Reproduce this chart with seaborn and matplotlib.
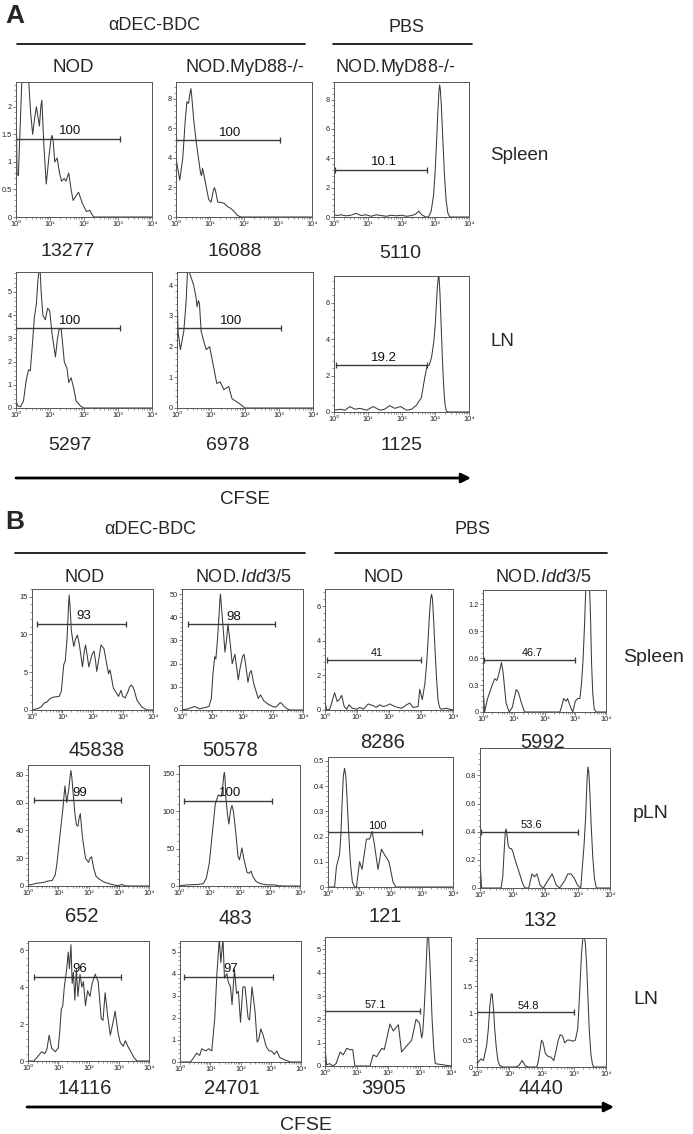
import numpy as np
import matplotlib.pyplot as plt
import seaborn as sns
from matplotlib.ticker import FixedLocator, LogLocator, NullFormatter, AutoMinorLocator

# ------------------------------------------------------------
# data: CFSE histograms (x = log10 CFSE, y = count)
# ------------------------------------------------------------

# panel A, aDEC-BDC NOD, spleen
A_NOD_SPL_X = [0.0, 0.03, 0.07, 0.12, 0.18, 0.28, 0.37, 0.43, 0.49, 0.55, 0.6, 0.65, 0.69, 0.73, 0.76,
               0.82, 0.89, 0.97, 1.03, 1.06, 1.09, 1.14, 1.21, 1.28, 1.34, 1.42, 1.47, 1.55, 1.62, 1.68,
               1.76, 1.84, 1.95, 2.07, 2.17, 2.28, 4.0]
A_NOD_SPL_Y = [2.3, 0.8, 0.75, 1.6, 2.6, 2.6, 2.5, 1.9, 1.5, 1.8, 2.0, 1.8, 1.65, 2.0, 2.12,
               1.3, 0.6, 1.1, 1.42, 1.48, 1.4, 1.0, 1.07, 0.8, 0.65, 0.7, 0.65, 0.8, 0.5, 0.3,
               0.38, 0.45, 0.25, 0.1, 0.12, 0.0, 0.0]
# panel A, aDEC-BDC NOD.MyD88-/-, spleen
A_MYD_SPL_X = [0.0, 0.11, 0.2, 0.27, 0.32, 0.37, 0.41, 0.44, 0.47, 0.52, 0.6, 0.72, 0.75, 0.78, 0.86,
               0.96, 1.03, 1.09, 1.13, 1.17, 1.23, 1.33, 1.43, 1.52, 1.6, 1.7, 1.81, 1.91, 4.0]
A_MYD_SPL_Y = [4.0, 2.5, 4.0, 6.5, 7.8, 7.7, 8.4, 8.7, 8.0, 6.6, 5.0, 3.0, 2.8, 3.3, 2.4,
               1.2, 1.0, 1.7, 2.0, 1.7, 1.0, 1.0, 0.9, 0.7, 0.6, 0.4, 0.1, 0.0, 0.0]
# panel A, PBS NOD.MyD88-/-, spleen
A_PBS_SPL_X = [0.0, 0.1, 0.2, 0.35, 0.5, 0.65, 0.8, 0.95, 1.1, 1.25, 1.4, 1.55, 1.7, 1.85, 2.0, 2.15,
               2.3, 2.42, 2.51, 2.6, 2.72, 2.8, 2.88, 2.95, 3.0, 3.04, 3.08, 3.11, 3.13, 3.15, 3.18,
               3.22, 3.27, 3.32, 3.37, 3.43, 4.0]
A_PBS_SPL_Y = [0.15, 0.1, 0.15, 0.08, 0.12, 0.25, 0.1, 0.15, 0.05, 0.15, 0.1, 0.05, 0.12, 0.08, 0.12, 0.05,
               0.1, 0.2, 0.4, 0.15, 0.0, 0.0, 0.4, 1.5, 3.2, 5.2, 7.3, 8.6, 9.0, 8.7, 7.6,
               5.5, 3.0, 1.2, 0.3, 0.0, 0.0]
# panel A, aDEC-BDC NOD, LN
A_NOD_LN_X = [0.0, 0.05, 0.13, 0.22, 0.3, 0.37, 0.42, 0.47, 0.54, 0.6, 0.64, 0.67, 0.71, 0.74, 0.79,
              0.86, 0.93, 0.99, 1.06, 1.16, 1.22, 1.27, 1.33, 1.42, 1.5, 1.55, 1.62, 1.69, 1.77, 1.89,
              1.99, 4.0]
A_NOD_LN_Y = [0.3, 0.1, 0.05, 0.3, 1.2, 1.65, 1.6, 2.5, 3.9, 4.5, 5.4, 5.9, 5.9, 5.0, 4.0,
              3.8, 4.3, 4.2, 3.2, 2.2, 3.0, 3.4, 3.4, 2.0, 1.7, 1.1, 1.3, 0.9, 0.3, 0.1,
              0.0, 0.0]
# panel A, aDEC-BDC NOD.MyD88-/-, LN
A_MYD_LN_X = [0.0, 0.03, 0.1, 0.2, 0.27, 0.31, 0.37, 0.43, 0.49, 0.56, 0.59, 0.63, 0.66, 0.71, 0.78,
              0.86, 0.96, 1.03, 1.17, 1.27, 1.38, 1.52, 1.62, 1.76, 1.83, 2.0, 4.0]
A_MYD_LN_Y = [4.0, 2.5, 1.9, 2.5, 3.5, 4.5, 4.4, 4.2, 4.0, 3.6, 3.3, 3.5, 3.4, 2.5, 2.2,
              1.9, 2.0, 1.6, 0.8, 0.85, 0.6, 0.7, 0.3, 0.2, 0.15, 0.0, 0.0]
# panel A, PBS NOD.MyD88-/-, LN
A_PBS_LN_X = [0.0, 0.18, 0.33, 0.47, 0.62, 0.77, 0.97, 1.16, 1.36, 1.5, 1.65, 1.8, 1.97, 2.15, 2.3,
              2.44, 2.59, 2.69, 2.76, 2.82, 2.89, 2.96, 3.0, 3.03, 3.06, 3.09, 3.11, 3.14, 3.17, 3.21,
              3.25, 3.29, 3.33, 3.38, 4.0]
A_PBS_LN_Y = [0.1, 0.15, 0.1, 0.3, 0.15, 0.2, 0.1, 0.3, 0.1, 0.15, 0.35, 0.2, 0.3, 0.1, 0.15,
              0.37, 0.8, 1.9, 2.56, 2.56, 3.0, 3.9, 4.8, 5.8, 6.8, 7.4, 7.5, 6.5, 5.0, 3.0,
              1.4, 0.4, 0.05, 0.0, 0.0]

# panel B, spleen
B_NOD_SPL_X = [0.0, 0.2, 0.3, 0.42, 0.48, 0.59, 0.7, 0.9, 0.97, 1.05, 1.1, 1.16, 1.21, 1.23, 1.26,
               1.3, 1.38, 1.44, 1.5, 1.56, 1.67, 1.73, 1.77, 1.81, 1.88, 1.98, 2.05, 2.1, 2.14, 2.22,
               2.28, 2.38, 2.45, 2.53, 2.58, 2.69, 2.86, 2.94, 3.0, 3.08, 3.18, 3.23, 3.28, 3.33, 3.38,
               3.47, 3.63, 3.8, 4.0]
B_NOD_SPL_Y = [0.0, 0.2, 0.4, 1.0, 1.0, 1.5, 1.7, 1.8, 2.5, 6.0, 6.5, 9.5, 14.0, 15.2, 13.5,
               10.5, 8.4, 9.4, 9.9, 8.8, 5.7, 7.8, 8.6, 7.6, 5.7, 7.3, 7.8, 6.5, 5.1, 7.0,
               8.6, 8.1, 6.5, 4.8, 5.3, 2.9, 1.8, 2.6, 1.8, 1.6, 2.5, 3.1, 3.3, 3.1, 2.6,
               1.3, 0.4, 0.0, 0.0]
B_IDD_SPL_X = [0.0, 0.2, 0.42, 0.58, 0.75, 0.89, 0.97, 1.02, 1.08, 1.12, 1.17, 1.22, 1.25, 1.27, 1.29,
               1.32, 1.38, 1.42, 1.47, 1.52, 1.6, 1.66, 1.75, 1.86, 1.92, 2.0, 2.05, 2.1, 2.18, 2.24,
               2.29, 2.37, 2.45, 2.52, 2.6, 2.7, 2.85, 3.0, 3.1, 3.2, 3.25, 3.3, 3.38, 3.5, 3.6,
               4.0]
B_IDD_SPL_Y = [0.0, 0.5, 1.5, 0.5, 1.0, 1.5, 5.0, 15.0, 23.0, 22.0, 30.0, 40.0, 47.0, 50.0, 47.0,
               42.0, 32.0, 25.0, 30.0, 37.0, 28.0, 20.0, 24.0, 13.0, 18.0, 23.0, 24.0, 20.0, 12.0, 16.0,
               17.0, 11.5, 8.0, 5.0, 6.5, 4.0, 2.5, 1.5, 1.2, 2.5, 3.2, 2.8, 1.5, 0.3, 0.0,
               0.0]
B_NODP_SPL_X = [0.0, 0.05, 0.15, 0.3, 0.38, 0.45, 0.52, 0.6, 0.68, 0.75, 0.85, 1.0, 1.09, 1.2, 1.35,
                1.51, 1.6, 1.71, 1.82, 1.92, 2.03, 2.18, 2.39, 2.55, 2.65, 2.75, 2.91, 2.96, 3.04, 3.12,
                3.18, 3.22, 3.26, 3.3, 3.33, 3.36, 3.4, 3.43, 3.48, 3.53, 3.58, 3.63, 3.79, 4.0]
B_NODP_SPL_Y = [0.5, 0.0, 0.05, 1.0, 0.5, 0.6, 0.85, 0.2, 0.05, 0.3, 0.1, 0.05, 0.15, 0.05, 0.35,
                0.25, 0.15, 0.3, 0.2, 0.25, 0.35, 0.2, 0.1, 0.3, 0.4, 0.15, 0.2, 1.2, 0.6, 1.5,
                2.8, 4.0, 5.4, 6.4, 6.7, 6.4, 5.0, 3.8, 2.0, 0.6, 0.15, 0.05, 0.1, 0.0]
B_IDDP_SPL_X = [0.0, 0.05, 0.15, 0.3, 0.38, 0.45, 0.5, 0.6, 0.65, 0.75, 0.85, 0.95, 1.08, 1.15, 1.25,
                1.35, 2.5, 2.55, 2.62, 2.7, 2.75, 2.85, 2.92, 3.0, 3.08, 3.15, 3.2, 3.25, 3.3, 3.34,
                3.36, 3.42, 3.47, 3.5, 3.53, 3.57, 3.62, 3.68, 4.0]
B_IDDP_SPL_Y = [0.3, 0.0, 0.15, 0.3, 0.37, 0.35, 0.4, 0.55, 0.45, 0.1, 0.0, 0.05, 0.25, 0.22, 0.1,
                0.0, 0.0, 0.05, 0.15, 0.12, 0.15, 0.05, 0.0, 0.12, 0.15, 0.15, 0.3, 0.55, 0.95, 1.35,
                1.6, 1.7, 1.35, 1.0, 0.55, 0.2, 0.03, 0.0, 0.0]

# panel B, pLN
B_NOD_PLN_X = [0.0, 0.3, 0.5, 0.65, 0.8, 0.9, 0.95, 1.05, 1.15, 1.22, 1.28, 1.35, 1.4, 1.42, 1.45,
               1.48, 1.55, 1.6, 1.65, 1.7, 1.73, 1.8, 1.9, 2.0, 2.05, 2.1, 2.18, 2.25, 2.35, 2.5,
               2.7, 2.9, 3.0, 3.1, 3.2, 3.4, 4.0]
B_NOD_PLN_Y = [0.5, 2.0, 2.5, 3.5, 4.0, 8.0, 15.0, 35.0, 55.0, 72.0, 60.0, 70.0, 80.0, 83.0, 78.0,
               70.0, 52.0, 44.0, 43.0, 50.0, 52.0, 35.0, 20.0, 17.0, 20.0, 21.0, 12.0, 7.0, 5.0, 3.0,
               1.5, 0.5, 0.3, 1.2, 0.2, 0.0, 0.0]
B_IDD_PLN_X = [0.0, 0.3, 0.6, 0.8, 0.9, 1.0, 1.1, 1.2, 1.3, 1.4, 1.45, 1.48, 1.5, 1.52, 1.55,
               1.6, 1.65, 1.7, 1.75, 1.8, 1.88, 1.95, 2.0, 2.05, 2.08, 2.15, 2.25, 2.32, 2.38, 2.45,
               2.55, 2.7, 2.9, 3.15, 3.3, 3.5, 4.0]
B_IDD_PLN_Y = [0.5, 1.5, 2.0, 3.0, 10.0, 30.0, 70.0, 110.0, 122.0, 120.0, 135.0, 148.0, 152.0, 145.0, 118.0,
               97.0, 83.0, 100.0, 108.0, 100.0, 70.0, 40.0, 35.0, 45.0, 51.0, 35.0, 18.0, 17.0, 20.0, 12.0,
               6.0, 3.0, 1.5, 1.5, 0.3, 0.0, 0.0]
B_NODP_PLN_X = [0.0, 0.21, 0.27, 0.33, 0.37, 0.41, 0.45, 0.49, 0.53, 0.57, 0.61, 0.66, 0.72, 0.78, 0.85,
                0.91, 1.01, 1.09, 1.23, 1.33, 1.41, 1.47, 1.6, 1.71, 1.8, 1.95, 2.08, 2.17, 4.0]
B_NODP_PLN_Y = [0.0, 0.0, 0.08, 0.11, 0.13, 0.2, 0.33, 0.44, 0.47, 0.44, 0.35, 0.22, 0.09, 0.02, 0.0,
                0.0, 0.1, 0.07, 0.19, 0.19, 0.22, 0.18, 0.07, 0.15, 0.13, 0.1, 0.02, 0.0, 0.0]
B_IDDP_PLN_X = [0.0, 0.05, 0.65, 0.7, 0.74, 0.78, 0.8, 0.83, 0.87, 0.92, 0.97, 1.02, 1.08, 1.15, 1.22,
                1.3, 1.38, 1.5, 1.55, 1.6, 1.68, 1.75, 1.85, 1.95, 2.08, 2.22, 2.35, 2.45, 2.6, 2.7,
                2.8, 2.9, 3.0, 3.1, 3.15, 3.2, 3.25, 3.29, 3.32, 3.35, 3.38, 3.42, 3.47, 3.52, 3.58,
                4.0]
B_IDDP_PLN_Y = [0.2, 0.0, 0.0, 0.08, 0.25, 0.4, 0.42, 0.38, 0.3, 0.28, 0.28, 0.25, 0.2, 0.15, 0.1,
                0.04, 0.0, 0.0, 0.05, 0.1, 0.08, 0.1, 0.02, 0.0, 0.05, 0.1, 0.02, 0.0, 0.05, 0.1,
                0.1, 0.07, 0.02, 0.0, 0.15, 0.3, 0.5, 0.75, 0.86, 0.82, 0.68, 0.45, 0.22, 0.07, 0.0,
                0.0]

# panel B, LN
B_NOD_LN_X = [0.0, 0.2, 0.3, 0.45, 0.55, 0.62, 0.7, 0.78, 0.9, 1.0, 1.05, 1.1, 1.15, 1.2, 1.28,
              1.33, 1.37, 1.42, 1.46, 1.5, 1.55, 1.6, 1.65, 1.72, 1.78, 1.83, 1.9, 1.97, 2.05, 2.12,
              2.22, 2.32, 2.42, 2.48, 2.55, 2.63, 2.72, 2.8, 2.88, 2.98, 3.05, 3.15, 3.22, 3.3, 3.4,
              3.5, 3.6, 4.0]
B_NOD_LN_Y = [0.0, 0.0, 0.2, 0.5, 0.4, 0.6, 1.4, 0.7, 0.5, 0.7, 1.6, 2.8, 3.0, 4.0, 5.0,
              5.9, 5.0, 6.3, 4.2, 4.8, 3.3, 5.0, 3.5, 4.7, 4.0, 4.3, 3.0, 3.8, 3.5, 4.2,
              4.7, 4.3, 2.3, 2.2, 3.7, 2.5, 1.4, 2.0, 2.7, 1.5, 1.0, 0.8, 1.1, 0.8, 0.5,
              0.2, 0.0, 0.0]
B_IDD_LN_X = [0.0, 0.35, 0.45, 0.55, 0.65, 0.72, 0.85, 0.95, 1.05, 1.15, 1.22, 1.3, 1.35, 1.42, 1.47,
              1.55, 1.6, 1.67, 1.72, 1.8, 1.87, 1.93, 2.0, 2.08, 2.15, 2.25, 2.3, 2.38, 2.48, 2.55,
              2.6, 2.67, 2.75, 2.85, 2.95, 3.02, 3.12, 3.2, 3.3, 3.45, 3.55, 3.65, 4.0]
B_IDD_LN_Y = [0.0, 0.0, 0.2, 0.4, 0.3, 0.6, 0.5, 0.6, 0.5, 2.0, 4.0, 5.6, 4.5, 5.6, 3.8,
              4.0, 3.6, 3.4, 2.6, 4.2, 3.1, 3.2, 1.8, 3.4, 3.4, 2.0, 1.9, 3.4, 2.3, 0.9,
              1.0, 1.5, 1.2, 0.7, 0.5, 0.5, 0.35, 0.5, 0.2, 0.1, 0.05, 0.0, 0.0]
B_NODP_LN_X = [0.0, 0.05, 0.15, 0.25, 0.35, 0.48, 0.58, 0.69, 0.79, 0.88, 0.95, 1.43, 1.53, 1.64, 1.8,
               1.88, 1.95, 2.06, 2.17, 2.33, 2.43, 2.59, 2.75, 2.89, 3.0, 3.07, 3.1, 3.14, 3.18, 3.22,
               3.25, 3.28, 3.31, 3.35, 3.4, 3.45, 3.5, 4.0]
B_NODP_LN_Y = [0.8, 0.05, 0.1, 0.0, 0.1, 0.6, 0.48, 0.76, 0.7, 0.7, 0.0, 0.0, 0.48, 0.4, 0.76,
               0.7, 1.1, 1.8, 1.5, 1.77, 0.6, 0.86, 1.1, 2.0, 1.85, 1.2, 1.4, 2.2, 3.3, 4.6,
               5.6, 5.7, 5.0, 3.8, 2.0, 0.8, 0.1, 0.0]
B_IDDP_LN_X = [0.0, 0.05, 0.12, 0.2, 0.3, 0.35, 0.4, 0.44, 0.47, 0.51, 0.55, 0.6, 0.65, 0.7, 0.8,
               1.2, 1.3, 1.4, 1.5, 1.6, 1.85, 1.9, 2.0, 2.05, 2.12, 2.2, 2.3, 2.38, 2.45, 2.52,
               2.58, 2.65, 2.72, 2.8, 2.88, 2.97, 3.05, 3.12, 3.16, 3.2, 3.24, 3.28, 3.32, 3.36, 3.4,
               3.44, 3.48, 3.53, 3.58, 3.62, 4.0]
B_IDDP_LN_Y = [0.05, 0.1, 0.15, 0.12, 0.4, 0.7, 1.15, 1.36, 1.36, 1.1, 0.7, 0.35, 0.12, 0.03, 0.0,
               0.0, 0.03, 0.12, 0.02, 0.0, 0.0, 0.1, 0.5, 0.45, 0.25, 0.2, 0.18, 0.12, 0.3, 0.5,
               0.6, 0.58, 0.45, 0.5, 0.5, 0.48, 0.5, 0.7, 1.1, 1.6, 2.1, 2.38, 2.45, 2.3, 1.9,
               1.3, 0.7, 0.25, 0.05, 0.0, 0.0]

# gates (log10 start, log10 end, height) and their percentages
A_GATE_FROM = [0.0, 0.0, 0.03, 0.0, 0.0, 0.06]
A_GATE_TO = [3.05, 3.05, 2.76, 3.05, 3.05, 2.76]
A_GATE_Y = [1.42, 5.2, 3.2, 3.43, 2.6, 2.56]
A_GATE_PCT = ["100", "100", "10.1", "100", "100", "19.2"]
A_EVENTS = ["13277", "16088", "5110", "5297", "6978", "1125"]

B_GATE_FROM = [0.17, 0.2, 0.06, 0.04, 0.2, 0.15, 0.0, 0.02, 0.2, 0.13, 0.0, 0.0]
B_GATE_TO = [3.1, 3.08, 3.01, 3.0, 3.06, 3.09, 3.01, 3.0, 3.07, 3.06, 3.02, 3.0]
B_GATE_Y = [11.4, 37.0, 2.9, 0.58, 61.5, 114.0, 0.216, 0.40, 4.56, 3.86, 2.35, 1.02]
B_GATE_PCT = ["93", "98", "41", "46.7", "99", "100", "100", "53.6", "96", "97", "57.1", "54.8"]
B_EVENTS = ["45838", "50578", "8286", "5992", "652", "483", "121", "132", "14116", "24701", "3905", "4440"]

# ------------------------------------------------------------
# layout (pixels of the 693x1134 figure)
# ------------------------------------------------------------
W, H = 693, 1134
LINE = "#3a3a3a"

A_BOXES = [(16, 82, 152, 217), (176, 82, 312, 217), (334, 82, 469, 217),
           (16, 272, 152, 408), (177, 272, 313, 408), (334, 276, 469, 412)]
A_YLIM = [2.45, 9.15, 9.2, 5.86, 4.43, 7.47]
A_YTICKS = [[0, 0.5, 1, 1.5, 2], [0, 2, 4, 6, 8], [0, 2, 4, 6, 8],
            [0, 1, 2, 3, 4, 5], [0, 1, 2, 3, 4], [0, 2, 4, 6]]
A_EVENT_POS = [(68, 252), (235, 252), (400, 254), (70, 445), (228, 445), (401, 445)]

B_BOXES = [(32, 589, 153, 710), (182, 589, 303, 710), (325, 589, 453, 710), (483, 590, 606, 712),
           (28, 765, 149, 886), (179, 765, 300, 886), (328, 757, 453, 887), (480, 748, 610, 888),
           (28, 941, 149, 1061), (180, 941, 301, 1062), (325, 937, 451, 1066), (477, 938, 606, 1067)]
B_YLIM = [16, 52.2, 7.0, 1.357, 87, 162, 0.515, 0.995, 6.5, 5.48, 5.53, 2.4]
B_YTICKS = [[0, 5, 10, 15], [0, 10, 20, 30, 40, 50], [0, 2, 4, 6], [0, 0.3, 0.6, 0.9, 1.2],
            [0, 20, 40, 60, 80], [0, 50, 100, 150], [0, 0.1, 0.2, 0.3, 0.4, 0.5], [0, 0.2, 0.4, 0.6, 0.8],
            [0, 2, 4, 6], [0, 1, 2, 3, 4, 5], [0, 1, 2, 3, 4, 5], [0, 0.5, 1, 1.5, 2]]
B_EVENT_POS = [(97, 751), (230, 751), (383, 743), (543, 743),
               (82, 916), (235, 918), (385, 917), (540, 920),
               (85, 1088), (232, 1088), (384, 1088), (541, 1088)]
B_PCT_SIZE = [9.5, 9.5, 7.8, 7.8, 9.5, 9.5, 8, 8, 9.5, 9.5, 8, 8]

A_CURVES = [(A_NOD_SPL_X, A_NOD_SPL_Y), (A_MYD_SPL_X, A_MYD_SPL_Y), (A_PBS_SPL_X, A_PBS_SPL_Y),
            (A_NOD_LN_X, A_NOD_LN_Y), (A_MYD_LN_X, A_MYD_LN_Y), (A_PBS_LN_X, A_PBS_LN_Y)]
B_CURVES = [(B_NOD_SPL_X, B_NOD_SPL_Y), (B_IDD_SPL_X, B_IDD_SPL_Y),
            (B_NODP_SPL_X, B_NODP_SPL_Y), (B_IDDP_SPL_X, B_IDDP_SPL_Y),
            (B_NOD_PLN_X, B_NOD_PLN_Y), (B_IDD_PLN_X, B_IDD_PLN_Y),
            (B_NODP_PLN_X, B_NODP_PLN_Y), (B_IDDP_PLN_X, B_IDDP_PLN_Y),
            (B_NOD_LN_X, B_NOD_LN_Y), (B_IDD_LN_X, B_IDD_LN_Y),
            (B_NODP_LN_X, B_NODP_LN_Y), (B_IDDP_LN_X, B_IDDP_LN_Y)]

sns.set_style("ticks")
plt.rcParams['font.family'] = ['Liberation Sans', 'DejaVu Sans']
plt.rcParams['mathtext.fontset'] = 'custom'
plt.rcParams['mathtext.rm'] = 'Liberation Sans'
plt.rcParams['mathtext.it'] = 'Liberation Sans:italic'

fig = plt.figure(figsize=(W / 100, H / 100), dpi=100)

# overlay in pixel coordinates for headers, lines and arrows
ov = fig.add_axes([0, 0, 1, 1])
ov.set_xlim(0, W)
ov.set_ylim(H, 0)
ov.axis("off")
ov.patch.set_alpha(0)


def px_rect(l, t, r, b):
    return [l / W, 1 - b / H, (r - l) / W, (b - t) / H]


def hist_panel(box, logx, counts, ymax, yticks, g_from, g_to, g_y, pct, pct_size):
    ax = fig.add_axes(px_rect(*box))
    ax.set_xscale("log")
    sns.lineplot(x=np.power(10.0, logx), y=counts, ax=ax, color=LINE, linewidth=0.75,
                 estimator=None, sort=False)
    ax.set_xlim(1, 1e4)
    ax.set_ylim(0, ymax)
    ax.set_xlabel("")
    ax.set_ylabel("")

    # gate bar with end caps
    gx = [10 ** g_from, 10 ** g_to]
    ax.plot(gx, [g_y, g_y], color=LINE, linewidth=1.0)
    ax.plot(gx, [g_y, g_y], color=LINE, linestyle="none", marker="|", markersize=4, markeredgewidth=0.9)
    ax.annotate(pct, xy=(10 ** ((g_from + g_to) / 2 + 0.08), g_y), xytext=(0, 1.2),
                textcoords="offset points", ha="center", va="bottom", fontsize=pct_size, color="#111")

    ax.xaxis.set_major_locator(FixedLocator([1, 10, 100, 1000, 10000]))
    ax.set_xticklabels(["10\u2070", "10\u00b9", "10\u00b2", "10\u00b3", "10\u2074"])
    ax.xaxis.set_minor_locator(LogLocator(base=10, subs=np.arange(2, 10)))
    ax.xaxis.set_minor_formatter(NullFormatter())
    ax.yaxis.set_major_locator(FixedLocator(yticks))
    ax.set_yticklabels([f"{v:g}" for v in yticks])
    ax.yaxis.set_minor_locator(AutoMinorLocator(5))
    ax.tick_params(which="major", length=2, width=0.5, labelsize=5.3, pad=1, color="#444",
                   labelcolor="#222")
    ax.tick_params(which="minor", length=1.1, width=0.4, color="#444")
    for s in ax.spines.values():
        s.set_linewidth(0.7)
        s.set_color("#555")
    return ax


for i in range(6):
    hist_panel(A_BOXES[i], A_CURVES[i][0], A_CURVES[i][1], A_YLIM[i], A_YTICKS[i],
               A_GATE_FROM[i], A_GATE_TO[i], A_GATE_Y[i], A_GATE_PCT[i], 9.5)
    ov.text(*A_EVENT_POS[i], A_EVENTS[i], ha="center", va="center", fontsize=14)

for i in range(12):
    hist_panel(B_BOXES[i], B_CURVES[i][0], B_CURVES[i][1], B_YLIM[i], B_YTICKS[i],
               B_GATE_FROM[i], B_GATE_TO[i], B_GATE_Y[i], B_GATE_PCT[i], B_PCT_SIZE[i])
    ov.text(*B_EVENT_POS[i], B_EVENTS[i], ha="center", va="center", fontsize=14.5)

# ---- panel A headers
ov.text(5, 16, "A", ha="left", va="center", fontsize=19, fontweight="bold")
ov.text(154, 26, "\u03b1DEC-BDC", ha="center", va="center", fontsize=13)
ov.plot([17, 305], [43.5, 43.5], color="black", linewidth=1.2)
ov.text(407, 27, "PBS", ha="center", va="center", fontsize=13)
ov.plot([333, 472], [43.5, 43.5], color="black", linewidth=1.2)
ov.text(73, 68, "NOD", ha="center", va="center", fontsize=13.5)
ov.text(245, 68, "NOD.MyD88-/-", ha="center", va="center", fontsize=13)
ov.text(395, 68, r"NOD.MyD$\mathit{88}$-/-", ha="center", va="center", fontsize=13)
ov.text(490, 155, "Spleen", ha="left", va="center", fontsize=13.5)
ov.text(490, 342, "LN", ha="left", va="center", fontsize=13.5)
ov.annotate("", xy=(471, 478), xytext=(16, 478),
            arrowprops=dict(arrowstyle="-|>", color="black", lw=2, mutation_scale=14, shrinkA=0, shrinkB=0))
ov.text(245, 500, "CFSE", ha="center", va="center", fontsize=13.5)

# ---- panel B headers
ov.text(5, 522, "B", ha="left", va="center", fontsize=19, fontweight="bold")
ov.text(150, 530, "\u03b1DEC-BDC", ha="center", va="center", fontsize=13)
ov.plot([15, 305], [553, 553], color="black", linewidth=1.2)
ov.text(472, 530, "PBS", ha="center", va="center", fontsize=13)
ov.plot([335, 607], [553, 553], color="black", linewidth=1.2)
ov.text(85, 577, "NOD", ha="center", va="center", fontsize=13)
ov.text(243, 577, r"NOD.$\mathit{Idd3/5}$", ha="center", va="center", fontsize=13)
ov.text(384, 577, "NOD", ha="center", va="center", fontsize=13)
ov.text(543, 577, r"NOD.$\mathit{Idd3/5}$", ha="center", va="center", fontsize=13)
ov.text(623, 657, "Spleen", ha="left", va="center", fontsize=14)
ov.text(633, 813, "pLN", ha="left", va="center", fontsize=14)
ov.text(633, 1000, "LN", ha="left", va="center", fontsize=14)
ov.annotate("", xy=(614, 1107), xytext=(27, 1107),
            arrowprops=dict(arrowstyle="-|>", color="black", lw=2, mutation_scale=14, shrinkA=0, shrinkB=0))
ov.text(306, 1125, "CFSE", ha="center", va="center", fontsize=14)

fig.savefig("out.png", dpi=100)
